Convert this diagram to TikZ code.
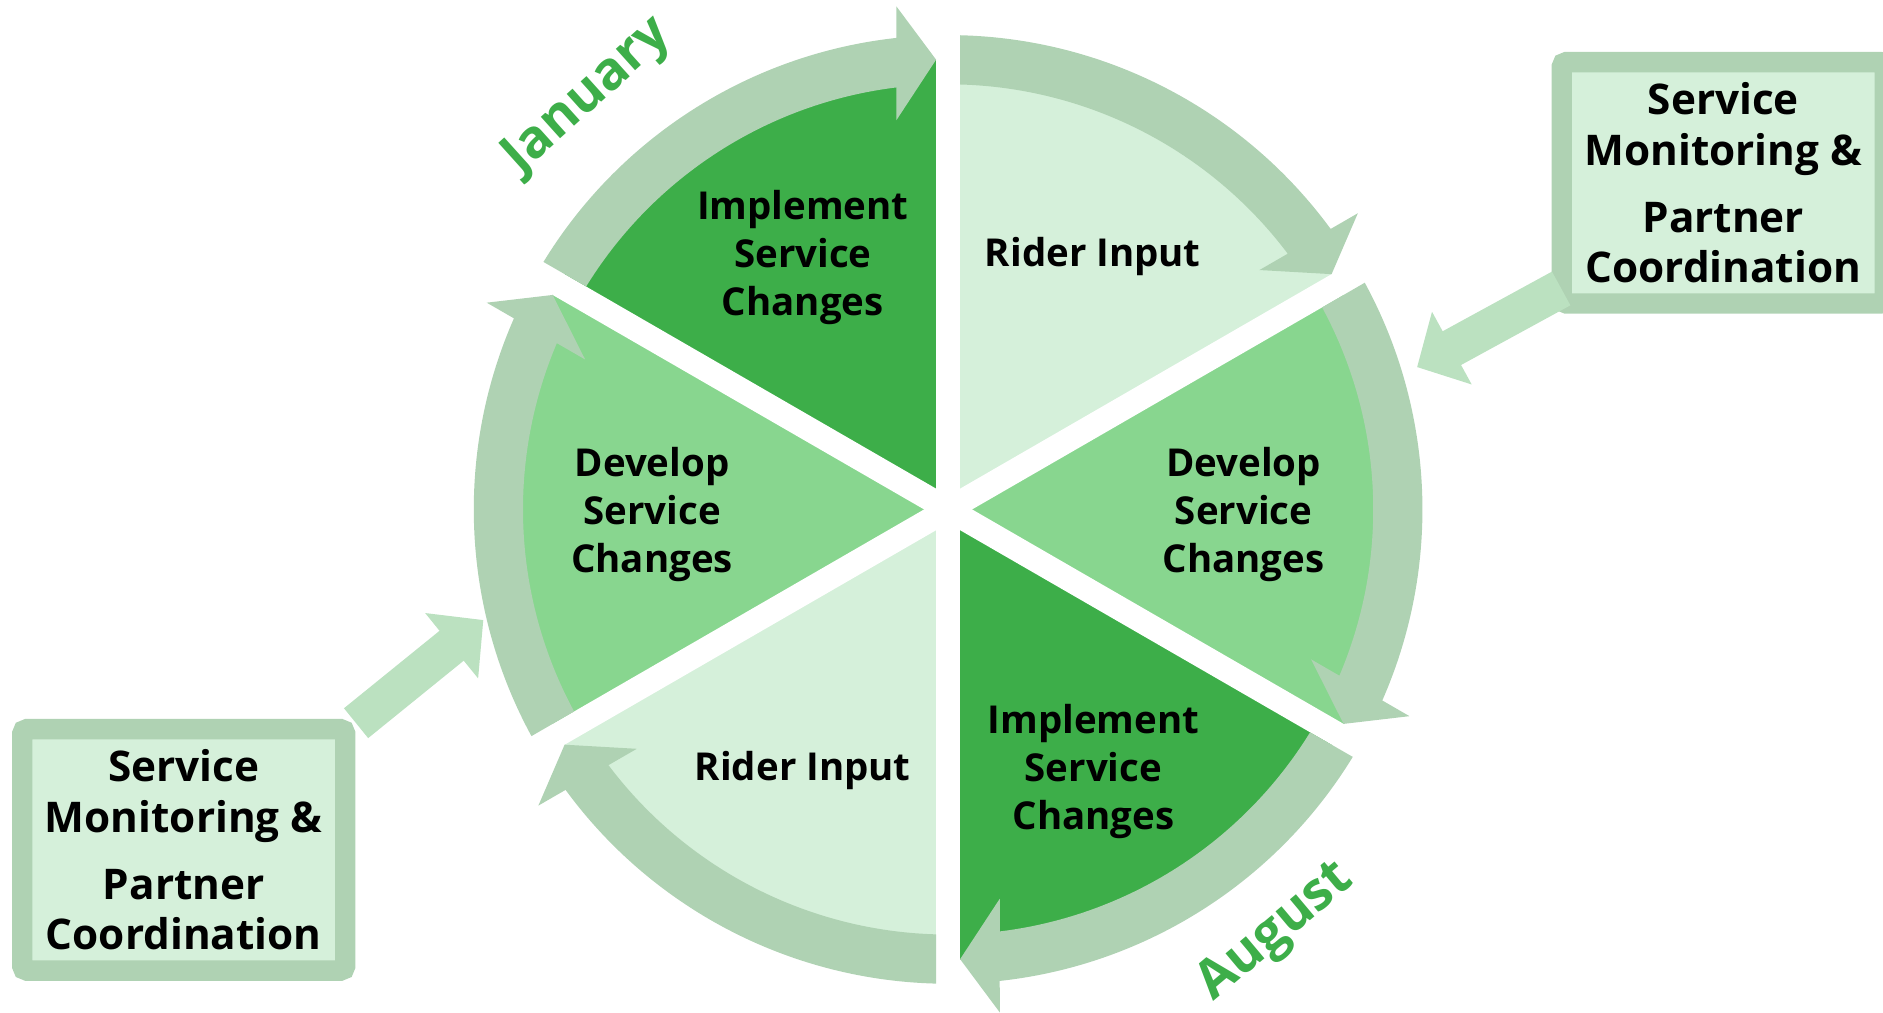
\documentclass[tikz,border=0pt]{standalone}
\usepackage{fontspec}
\setmainfont{Open Sans}
\usetikzlibrary{arrows.meta,calc}
\definecolor{darkg}{RGB}{61,174,73}
\definecolor{medg}{RGB}{136,214,143}
\definecolor{lightg}{RGB}{213,240,218}
\definecolor{ringc}{RGB}{175,210,179}
\definecolor{connc}{RGB}{187,225,192}
\tikzset{
  lbl/.style={font=\fontsize{16}{20}\selectfont\bfseries, align=center, text=black, inner sep=0pt},
  month/.style={font=\fontsize{22}{26}\selectfont\bfseries, text=darkg, inner sep=0pt},
  sidebox/.style={draw=ringc, fill=lightg, line width=8.5pt, rounded corners=2pt,
    minimum width=134.5pt, minimum height=100.5pt, inner sep=0pt, align=center,
    font=\fontsize{17.6}{21}\selectfont\bfseries},
  conn/.style={draw=connc, line width=16pt},
}
\begin{document}
\begin{tikzpicture}[x=0.5pt,y=0.5pt]
\useasboundingbox (0,0) rectangle (1568,842.7);
\coordinate (C) at (789.5,418.5);
\begin{scope}[shift={(C)}]
  % sectors
  \fill[lightg] (0,0) -- (30:375) arc[start angle=30,end angle=90,radius=375] -- cycle;
  \fill[medg] (0,0) -- (-30:375) arc[start angle=-30,end angle=30,radius=375] -- cycle;
  \fill[darkg] (0,0) -- (-90:375) arc[start angle=-90,end angle=-30,radius=375] -- cycle;
  \fill[lightg] (0,0) -- (-150:375) arc[start angle=-150,end angle=-90,radius=375] -- cycle;
  \fill[medg] (0,0) -- (150:375) arc[start angle=150,end angle=210,radius=375] -- cycle;
  \fill[darkg] (0,0) -- (90:375) arc[start angle=90,end angle=150,radius=375] -- cycle;
  % white gaps
  \foreach \a in {90,30,-30}
    \draw[white,line width=10pt] (\a:382) -- (\a+180:382);
  % ring arrows
  \foreach \R in {0,60,120,180,240,300}
    \fill[ringc,rotate=\R] (-31.45:395) arc[start angle=-31.45,end angle=-83.75,radius=395]
      -- (43,-418.8) -- (10,-374.5) -- (43,-324.2) -- (43,-351.4)
      arc[start angle=-83.02,end angle=-31.62,radius=354] -- cycle;
\end{scope}
% sector labels
\node[lbl] (imp1) at (668.5,628) {Implement\\Service\\Changes};
\node[lbl] (rid1) at (910,629) {Rider Input};
\node[lbl] (dev1) at (1035.5,414) {Develop\\Service\\Changes};
\node[lbl] (imp2) at (910.5,200) {Implement\\Service\\Changes};
\node[lbl] (rid2) at (668.5,201) {Rider Input};
\node[lbl] (dev2) at (543,414) {Develop\\Service\\Changes};
% months
\node[month,rotate=42] (jan) at (490,762) {January};
\node[month,rotate=40] (aug) at (1063,66) {August};
% side boxes
\node[sidebox] (boxR) at (1435,690.5) {Service\\Monitoring \&\\[7pt]Partner\\Coordination};
\node[sidebox] (boxL) at (153,135) {Service\\Monitoring \&\\[7pt]Partner\\Coordination};
% connectors
\coordinate (startR) at ($(boxR.south west)+(8,21)$);
\coordinate (tipR) at (1180,537);
\coordinate (startL) at ($(boxL.north east)+(0.5,-3.5)$);
\coordinate (tipL) at (402.5,326.4);
\draw[conn,-{Triangle[length=16.5pt,width=33.5pt]}] (startR) -- (tipR);
\draw[conn,-{Triangle[length=17pt,width=34pt]}] (startL) -- (tipL);
\end{tikzpicture}
\end{document}
